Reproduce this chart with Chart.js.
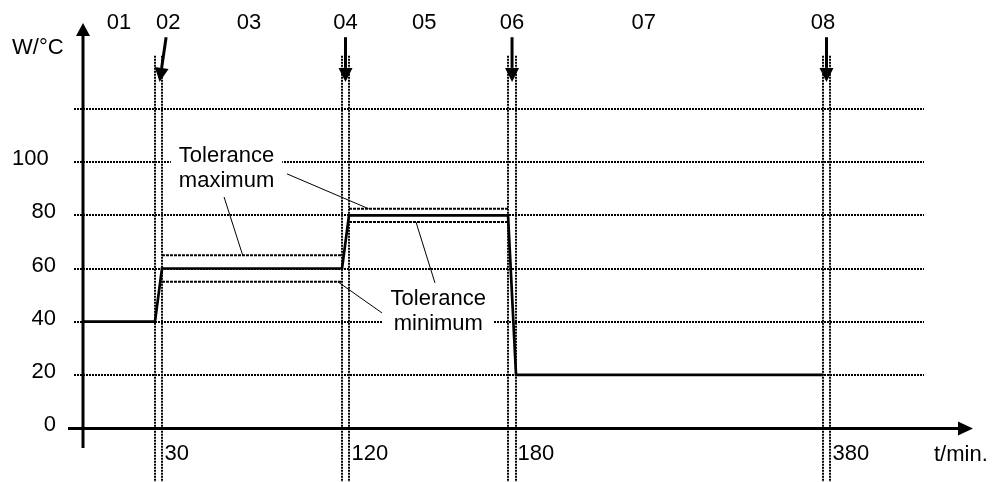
<!DOCTYPE html>
<html><head><meta charset="utf-8">
<script src="https://cdn.jsdelivr.net/npm/chart.js@4.4.1/dist/chart.umd.min.js"></script>
<style>html,body{margin:0;padding:0;background:#fff;}canvas{display:block;}</style>
</head><body>
<canvas id="c" width="995" height="482"></canvas>
<script>
// ---- data ----
const mainTime  = [0, 30, 33, 120, 123, 180, 183, 380];
const mainValue = [40, 40, 60, 60, 80, 80, 20, 20];
const tolMaxTime  = [33, 120, 120, 123, 180];
const tolMaxValue = [65, 65, null, 82.5, 82.5];
const tolMinTime  = [33, 120, 120, 123, 180];
const tolMinValue = [55, 55, null, 77.5, 77.5];
const yTicks = [0, 20, 40, 60, 80, 100, 120];
const yTickLabels = ['0', '20', '40', '60', '80', '100\u2004', ''];
const xTicks = [30, 120, 180, 380];
const xTickLabels = ['30', '120', '180', '380'];
const phaseLabels = ['01', '02', '03', '04', '05', '06', '07', '08'];
const phaseTimes  = [15, 36, 75, 121.5, 150, 181.5, 265, 380];
const boundaryStart = [30, 120, 180, 380];
const boundaryEnd   = [33, 123, 183, 383];
const arrowFrom = [35, 121.5, 181.5, 381.5];
const arrowTo   = [32, 121.5, 181.5, 381.5];
const yTitle = 'W/°C';
const xTitle = 't/min.';
const notes = [
  {lines: ['Tolerance', 'maximum'], t: 64.2, v: 100},
  {lines: ['Tolerance', 'minimum'], t: 155, v: 46.3}
];
const leaders = [
  [[63, 86.9], [72, 65]],
  [[93.4, 95.6], [130, 82.5]],
  [[134.8, 43.3], [118, 55]],
  [[153.8, 54.6], [147, 77.5]]
];

// schematic (non-uniform) time axis: [time, fraction of axis width]
const xBreaks = [[0,0],[30,0.0856],[33,0.0939],[120,0.3080],[123,0.3163],[180,0.5054],[183,0.5149],[380,0.8799],[383,0.8882],[420,1]];

class PiecewiseScale extends Chart.LinearScale {
  static id = 'piecewise';
  static defaults = {};
  getPixelForValue(value) {
    if (value === null || value === undefined || isNaN(value)) return NaN;
    const bp = xBreaks;
    let i = 1;
    while (i < bp.length - 1 && value > bp[i][0]) i++;
    const [v0, f0] = bp[i-1], [v1, f1] = bp[i];
    return this.getPixelForDecimal(f0 + (value - v0) / (v1 - v0) * (f1 - f0));
  }
  getValueForPixel(pixel) {
    const dec = this.getDecimalForPixel(pixel);
    const bp = xBreaks;
    let i = 1;
    while (i < bp.length - 1 && dec > bp[i][1]) i++;
    const [v0, f0] = bp[i-1], [v1, f1] = bp[i];
    return v0 + (dec - f0) / (f1 - f0) * (v1 - v0);
  }
}
Chart.register(PiecewiseScale);

const FONT = '"Liberation Sans", Arial, sans-serif';
const FS = 22;
Chart.defaults.font.family = FONT;
Chart.defaults.font.size = FS;
Chart.defaults.color = '#000';

const pts = (xs, ys) => xs.map((x, i) => ({x: x, y: ys[i]}));

function arrow(ctx, x1, y1, x2, y2, head, hw) {
  const ang = Math.atan2(y2 - y1, x2 - x1);
  const bx = x2 - Math.cos(ang) * head, by = y2 - Math.sin(ang) * head;
  ctx.beginPath(); ctx.moveTo(x1, y1); ctx.lineTo(bx, by); ctx.stroke();
  ctx.beginPath();
  ctx.moveTo(x2, y2);
  ctx.lineTo(bx + Math.sin(ang) * hw / 2, by - Math.cos(ang) * hw / 2);
  ctx.lineTo(bx - Math.sin(ang) * hw / 2, by + Math.cos(ang) * hw / 2);
  ctx.closePath(); ctx.fill();
}

const deco = {
  id: 'deco',
  beforeDatasetsDraw(chart) {
    const ctx = chart.ctx, xs = chart.scales.x, ys = chart.scales.y;
    ctx.save();
    // double dotted boundary lines
    ctx.strokeStyle = '#000'; ctx.lineWidth = 2; ctx.setLineDash([2, 1]);
    [...boundaryStart, ...boundaryEnd].forEach(t => {
      const x = Math.round(xs.getPixelForValue(t));
      ctx.beginPath(); ctx.moveTo(x, ys.getPixelForValue(140)); ctx.lineTo(x, chart.height); ctx.stroke();
    });
    ctx.setLineDash([]);
    // note labels on white boxes
    ctx.font = FS + 'px ' + FONT; ctx.textAlign = 'center'; ctx.textBaseline = 'alphabetic';
    notes.forEach(n => {
      const cx = xs.getPixelForValue(n.t), by = ys.getPixelForValue(n.v);
      const w = Math.max(...n.lines.map(l => ctx.measureText(l).width)) + 16;
      ctx.fillStyle = '#fff';
      ctx.fillRect(cx - w / 2, by - 20, w, 25 * n.lines.length + 4);
      ctx.fillStyle = '#000';
      n.lines.forEach((l, i) => ctx.fillText(l, cx, by + 25 * i));
    });
    ctx.restore();
  },
  afterDatasetsDraw(chart) {
    const ctx = chart.ctx, xs = chart.scales.x, ys = chart.scales.y, a = chart.chartArea;
    ctx.save();
    ctx.strokeStyle = '#000'; ctx.fillStyle = '#000';
    // leader lines
    ctx.lineWidth = 1;
    leaders.forEach(([p, q]) => {
      ctx.beginPath();
      ctx.moveTo(xs.getPixelForValue(p[0]), ys.getPixelForValue(p[1]));
      ctx.lineTo(xs.getPixelForValue(q[0]), ys.getPixelForValue(q[1]));
      ctx.stroke();
    });
    // axes with arrows
    ctx.lineWidth = 3;
    const x0 = xs.getPixelForValue(0), y0 = ys.getPixelForValue(0);
    arrow(ctx, x0, y0 + 20, x0, a.top - 86, 13, 14);
    arrow(ctx, x0 - 15, y0 + 0.5, a.right + 49, y0 + 0.5, 15, 14);
    // phase arrows
    arrowFrom.forEach((t, i) => {
      arrow(ctx, xs.getPixelForValue(t), ys.getPixelForValue(147),
            xs.getPixelForValue(arrowTo[i]), ys.getPixelForValue(130.2), 14, 14);
    });
    // phase labels
    ctx.font = FS + 'px ' + FONT; ctx.textAlign = 'center'; ctx.textBaseline = 'middle';
    phaseLabels.forEach((l, i) => ctx.fillText(l, xs.getPixelForValue(phaseTimes[i]), ys.getPixelForValue(152.4)));
    // axis titles
    ctx.textAlign = 'left';
    ctx.fillText(yTitle, 12, ys.getPixelForValue(143));
    ctx.fillText(xTitle, a.right + 10, y0 + 27);
    ctx.restore();
  }
};

new Chart(document.getElementById('c'), {
  type: 'line',
  data: {
    datasets: [
      {data: pts(mainTime, mainValue), borderColor: '#000', borderWidth: 2.7, pointRadius: 0, tension: 0, fill: false, clip: false},
      {data: pts(tolMaxTime, tolMaxValue), borderColor: '#000', borderWidth: 2, borderDash: [3, 1], pointRadius: 0, tension: 0, fill: false, clip: false},
      {data: pts(tolMinTime, tolMinValue), borderColor: '#000', borderWidth: 2, borderDash: [3, 1], pointRadius: 0, tension: 0, fill: false, clip: false}
    ]
  },
  options: {
    responsive: false,
    animation: false,
    devicePixelRatio: 1,
    layout: {padding: {top: 109, right: 71, left: 0, bottom: 0}},
    plugins: {legend: {display: false}, tooltip: {enabled: false}},
    scales: {
      x: {
        type: 'piecewise', min: 0, max: 420, position: 'bottom',
        grid: {display: false, drawTicks: false},
        border: {display: false},
        ticks: {autoSkip: false, maxRotation: 0, align: 'start', labelOffset: 9.5, padding: 13, color: '#000',
                callback: (v, i) => xTickLabels[i]},
        afterBuildTicks: s => { s.ticks = xTicks.map(v => ({value: v})); },
        afterFit: s => { s.height = 54; }
      },
      y: {
        min: 0, max: 120,
        grid: {color: '#000', lineWidth: 2, tickLength: 9, tickBorderDash: [2, 1], tickColor: '#000'},
        border: {display: false, dash: [2, 1]},
        ticks: {padding: 18, labelOffset: -3, color: '#000', callback: (v, i) => yTickLabels[i]},
        afterBuildTicks: s => { s.ticks = yTicks.map(v => ({value: v})); },
        afterFit: s => { s.width = 83; }
      }
    }
  },
  plugins: [deco]
});
</script>
</body></html>
